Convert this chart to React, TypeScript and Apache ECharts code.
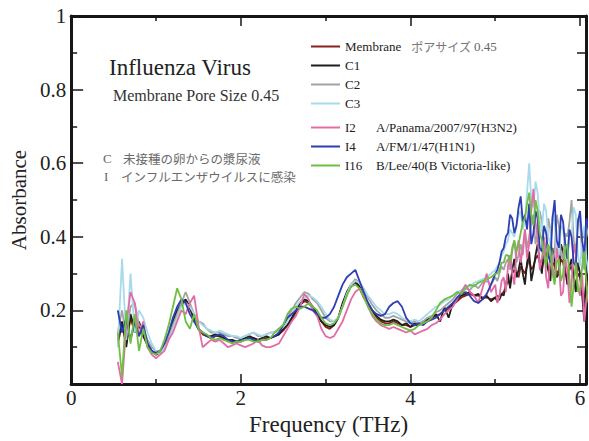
import React, { useEffect, useRef } from "react";
import * as echarts from "echarts";

const freq = [
  0.55, 0.6, 0.65, 0.7, 0.75, 0.8, 0.85, 0.9, 0.95, 1.0,
  1.05, 1.1, 1.15, 1.2, 1.25, 1.3, 1.35, 1.4, 1.45, 1.5,
  1.55, 1.6, 1.65, 1.7, 1.75, 1.8, 1.85, 1.9, 1.95, 2.0,
  2.05, 2.1, 2.15, 2.2, 2.25, 2.3, 2.35, 2.4, 2.45, 2.5,
  2.55, 2.6, 2.65, 2.7, 2.75, 2.8, 2.85, 2.9, 2.95, 3.0,
  3.05, 3.1, 3.15, 3.2, 3.25, 3.3, 3.35, 3.4, 3.45, 3.5,
  3.55, 3.6, 3.65, 3.7, 3.75, 3.8, 3.85, 3.9, 3.95, 4.0,
  4.05, 4.1, 4.15, 4.2, 4.25, 4.3, 4.35, 4.4, 4.45, 4.5,
  4.55, 4.6, 4.65, 4.7, 4.75, 4.8, 4.85, 4.9, 4.95,
  5.0, 5.025, 5.05, 5.075, 5.1, 5.125, 5.15, 5.175, 5.2, 5.225,
  5.25, 5.275, 5.3, 5.325, 5.35, 5.375, 5.4, 5.425, 5.45, 5.475,
  5.5, 5.525, 5.55, 5.575, 5.6, 5.625, 5.65, 5.675, 5.7, 5.725,
  5.75, 5.775, 5.8, 5.825, 5.85, 5.875, 5.9, 5.925, 5.95, 5.975,
  6.0, 6.025, 6.05, 6.075, 6.1,
];

const membrane = [
  0.11, 0.16, 0.11, 0.18, 0.14, 0.16, 0.13, 0.105, 0.09, 0.08,
  0.085, 0.1, 0.125, 0.165, 0.195, 0.215, 0.225, 0.205, 0.175, 0.15,
  0.135, 0.13, 0.125, 0.13, 0.13, 0.12, 0.12, 0.115, 0.115, 0.115,
  0.12, 0.125, 0.125, 0.12, 0.12, 0.125, 0.125, 0.13, 0.135, 0.145,
  0.16, 0.175, 0.195, 0.215, 0.225, 0.22, 0.205, 0.185, 0.17, 0.155,
  0.15, 0.16, 0.18, 0.215, 0.245, 0.265, 0.275, 0.26, 0.235, 0.215,
  0.2, 0.18, 0.17, 0.165, 0.165, 0.17, 0.165, 0.16, 0.16, 0.155,
  0.16, 0.16, 0.165, 0.17, 0.18, 0.185, 0.19, 0.2, 0.205, 0.215,
  0.225, 0.235, 0.24, 0.245, 0.24, 0.24, 0.235, 0.235, 0.23,
  0.235, 0.24, 0.235, 0.245, 0.25, 0.265, 0.28, 0.27, 0.3, 0.31,
  0.3, 0.29, 0.32, 0.31, 0.3, 0.32, 0.34, 0.31, 0.32, 0.34,
  0.35, 0.33, 0.31, 0.34, 0.33, 0.31, 0.3, 0.33, 0.32, 0.3,
  0.31, 0.34, 0.33, 0.3, 0.29, 0.31, 0.32, 0.29, 0.27, 0.3,
  0.29, 0.25, 0.22, 0.28, 0.27,
];

const c1 = [
  0.12, 0.17, 0.1, 0.19, 0.15, 0.17, 0.13, 0.11, 0.09, 0.08,
  0.09, 0.1, 0.13, 0.17, 0.2, 0.22, 0.23, 0.21, 0.18, 0.15,
  0.14, 0.13, 0.13, 0.135, 0.13, 0.125, 0.12, 0.12, 0.115, 0.12,
  0.125, 0.13, 0.125, 0.12, 0.125, 0.13, 0.125, 0.13, 0.135, 0.15,
  0.16, 0.18, 0.2, 0.22, 0.23, 0.225, 0.21, 0.19, 0.17, 0.16,
  0.155, 0.16, 0.18, 0.22, 0.25, 0.27, 0.28, 0.265, 0.24, 0.22,
  0.2, 0.185, 0.175, 0.17, 0.17, 0.175, 0.17, 0.16, 0.165, 0.155,
  0.165, 0.16, 0.17, 0.175, 0.18, 0.19, 0.17, 0.21, 0.18, 0.22,
  0.23, 0.24, 0.245, 0.25, 0.24, 0.245, 0.23, 0.24, 0.225,
  0.235, 0.225, 0.23, 0.245, 0.24, 0.27, 0.3, 0.26, 0.31, 0.34,
  0.29, 0.31, 0.34, 0.3, 0.27, 0.33, 0.36, 0.28, 0.31, 0.35,
  0.38, 0.33, 0.3, 0.39, 0.35, 0.31, 0.28, 0.37, 0.33, 0.29,
  0.3, 0.38, 0.36, 0.31, 0.27, 0.32, 0.34, 0.29, 0.25, 0.33,
  0.3, 0.24, 0.17, 0.31, 0.28,
];

const c2 = [
  0.14, 0.2, 0.13, 0.21, 0.22, 0.16, 0.15, 0.12, 0.1, 0.09,
  0.09, 0.11, 0.13, 0.16, 0.19, 0.22, 0.25, 0.22, 0.19, 0.17,
  0.165, 0.15, 0.14, 0.14, 0.14, 0.135, 0.13, 0.13, 0.125, 0.125,
  0.13, 0.135, 0.14, 0.13, 0.13, 0.135, 0.14, 0.14, 0.15, 0.16,
  0.18, 0.2, 0.22, 0.235, 0.25, 0.245, 0.23, 0.22, 0.2, 0.18,
  0.17, 0.17, 0.18, 0.21, 0.24, 0.27, 0.285, 0.275, 0.255, 0.235,
  0.215, 0.2, 0.19, 0.18, 0.18, 0.185, 0.18, 0.175, 0.17, 0.165,
  0.17, 0.165, 0.17, 0.18, 0.185, 0.195, 0.2, 0.21, 0.22, 0.23,
  0.245, 0.25, 0.26, 0.255, 0.27, 0.26, 0.275, 0.28, 0.27,
  0.29, 0.28, 0.3, 0.32, 0.31, 0.33, 0.34, 0.31, 0.36, 0.39,
  0.33, 0.35, 0.38, 0.35, 0.42, 0.37, 0.4, 0.44, 0.46, 0.38,
  0.41, 0.47, 0.44, 0.35, 0.37, 0.45, 0.42, 0.33, 0.36, 0.46,
  0.43, 0.35, 0.34, 0.41, 0.4, 0.44, 0.5, 0.39, 0.36, 0.45,
  0.44, 0.35, 0.31, 0.43, 0.4,
];

const c3 = [
  0.1, 0.34, 0.12, 0.3, 0.14, 0.2, 0.18, 0.14, 0.11, 0.09,
  0.08, 0.1, 0.12, 0.15, 0.18, 0.21, 0.22, 0.21, 0.19, 0.17,
  0.16, 0.15, 0.145, 0.14, 0.145, 0.14, 0.135, 0.13, 0.13, 0.125,
  0.13, 0.135, 0.14, 0.135, 0.13, 0.135, 0.14, 0.14, 0.145, 0.155,
  0.17, 0.19, 0.21, 0.225, 0.235, 0.24, 0.235, 0.225, 0.21, 0.19,
  0.175, 0.17, 0.18, 0.21, 0.245, 0.27, 0.28, 0.275, 0.26, 0.24,
  0.225, 0.21, 0.2, 0.19, 0.19, 0.195, 0.19, 0.18, 0.175, 0.17,
  0.175, 0.17, 0.18, 0.19, 0.2, 0.21, 0.215, 0.225, 0.23, 0.24,
  0.25, 0.255, 0.265, 0.265, 0.275, 0.28, 0.285, 0.29, 0.3,
  0.31, 0.32, 0.33, 0.35, 0.36, 0.38, 0.39, 0.42, 0.41, 0.4,
  0.43, 0.46, 0.47, 0.42, 0.44, 0.52, 0.6, 0.5, 0.48, 0.55,
  0.52, 0.44, 0.42, 0.49, 0.47, 0.4, 0.38, 0.46, 0.44, 0.37,
  0.35, 0.43, 0.42, 0.36, 0.33, 0.41, 0.4, 0.48, 0.46, 0.35,
  0.32, 0.39, 0.43, 0.34, 0.3,
];

const i2 = [
  0.06, 0.0, 0.16, 0.25, 0.22, 0.13, 0.17, 0.1, 0.08, 0.07,
  0.08, 0.09, 0.12, 0.14, 0.17, 0.2, 0.19, 0.22, 0.24, 0.16,
  0.1, 0.11, 0.12, 0.115, 0.12, 0.11, 0.1, 0.105, 0.11, 0.105,
  0.1, 0.105, 0.11, 0.12, 0.105, 0.1, 0.1, 0.105, 0.11, 0.13,
  0.15, 0.17, 0.185, 0.21, 0.245, 0.23, 0.2, 0.185, 0.15, 0.13,
  0.125, 0.13, 0.15, 0.17, 0.2, 0.23, 0.25, 0.26, 0.24, 0.21,
  0.185, 0.17, 0.16, 0.155, 0.15, 0.155, 0.15, 0.145, 0.14, 0.145,
  0.135, 0.14, 0.145, 0.15, 0.16, 0.165, 0.175, 0.19, 0.2, 0.21,
  0.23, 0.25, 0.27, 0.25, 0.24, 0.22, 0.26, 0.3, 0.25,
  0.27, 0.22, 0.24, 0.28, 0.29, 0.25, 0.32, 0.35, 0.3, 0.27,
  0.36, 0.39, 0.33, 0.37, 0.42, 0.34, 0.38, 0.47, 0.53, 0.44,
  0.4, 0.31, 0.34, 0.4, 0.29, 0.26, 0.36, 0.32, 0.28, 0.37,
  0.33, 0.24, 0.25, 0.34, 0.31, 0.22, 0.27, 0.38, 0.35, 0.26,
  0.24, 0.3, 0.17, 0.23, 0.27,
];

const i4 = [
  0.2, 0.14, 0.18, 0.12, 0.17, 0.13, 0.16, 0.11, 0.09, 0.085,
  0.09, 0.11, 0.14, 0.18, 0.21, 0.23, 0.22, 0.19, 0.17, 0.15,
  0.14, 0.13, 0.125, 0.13, 0.135, 0.13, 0.12, 0.115, 0.115, 0.12,
  0.12, 0.125, 0.12, 0.115, 0.12, 0.12, 0.125, 0.13, 0.14, 0.16,
  0.18, 0.19, 0.2, 0.21, 0.21, 0.205, 0.2, 0.19, 0.18, 0.18,
  0.19, 0.21, 0.24, 0.27, 0.29, 0.3, 0.31, 0.28, 0.25, 0.22,
  0.2, 0.19, 0.185, 0.19, 0.21, 0.22, 0.225, 0.21, 0.18, 0.165,
  0.16, 0.165, 0.16, 0.17, 0.175, 0.18, 0.19, 0.2, 0.21, 0.22,
  0.235, 0.245, 0.25, 0.24, 0.225, 0.22, 0.23, 0.245, 0.27,
  0.3, 0.31, 0.33, 0.36, 0.37, 0.4, 0.41, 0.46, 0.45, 0.41,
  0.43, 0.48, 0.51, 0.44, 0.46, 0.42, 0.49, 0.38, 0.41, 0.47,
  0.45, 0.37, 0.36, 0.43, 0.41, 0.35, 0.33, 0.45, 0.5, 0.39,
  0.37, 0.46, 0.44, 0.38, 0.34, 0.42, 0.4, 0.33, 0.32, 0.44,
  0.47, 0.39, 0.35, 0.45, 0.42,
];

const i16 = [
  0.14, 0.02, 0.2, 0.11, 0.19, 0.09, 0.15, 0.1, 0.085, 0.08,
  0.09, 0.12, 0.16, 0.21, 0.26, 0.23, 0.17, 0.15, 0.19, 0.15,
  0.14, 0.135, 0.125, 0.12, 0.125, 0.12, 0.115, 0.11, 0.115, 0.115,
  0.12, 0.12, 0.115, 0.115, 0.12, 0.12, 0.125, 0.14, 0.15, 0.16,
  0.19, 0.205, 0.21, 0.205, 0.21, 0.22, 0.21, 0.2, 0.18, 0.165,
  0.16, 0.165, 0.18, 0.21, 0.24, 0.265, 0.27, 0.26, 0.235, 0.21,
  0.19, 0.175, 0.165, 0.16, 0.16, 0.165, 0.16, 0.155, 0.15, 0.145,
  0.15, 0.16, 0.165, 0.17, 0.18, 0.2, 0.22, 0.23, 0.235, 0.24,
  0.25, 0.245, 0.26, 0.27, 0.265, 0.275, 0.28, 0.285, 0.29,
  0.3, 0.3, 0.31, 0.33, 0.33, 0.35, 0.35, 0.33, 0.37, 0.39,
  0.36, 0.38, 0.41, 0.44, 0.45, 0.49, 0.52, 0.46, 0.43, 0.5,
  0.47, 0.41, 0.39, 0.35, 0.32, 0.38, 0.36, 0.3, 0.27, 0.33,
  0.34, 0.28, 0.3, 0.37, 0.38, 0.29, 0.21, 0.27, 0.33, 0.25,
  0.26, 0.32, 0.36, 0.27, 0.22,
];

const seriesNames = ["Membrane", "C1", "C2", "C3", "I2", "I4", "I16"];
const seriesValues = [membrane, c1, c2, c3, i2, i4, i16];
const seriesColors = ["#8b1f1f", "#1e1e1e", "#a3a3a3", "#a6dbea", "#e36ca6", "#2d3db3", "#70be44"];
const strainNames: Record<string, string> = {
  I2: "A/Panama/2007/97(H3N2)",
  I4: "A/FM/1/47(H1N1)",
  I16: "B/Lee/40(B Victoria-like)",
};

const SERIF = "Liberation Serif";
const JP = "Noto Sans CJK JP";

export default function App() {
  const ref = useRef<HTMLDivElement>(null);
  useEffect(() => {
    document.body.style.margin = "0";
    const chart = echarts.init(ref.current!, null, { renderer: "svg" });

    const axisLine = { show: true, onZero: false, lineStyle: { color: "#161616", width: 3 } };
    const legendRich = {
      n: { fontFamily: SERIF, fontSize: 13, color: "#222", width: 31, lineHeight: 19 },
      s: { fontFamily: SERIF, fontSize: 13, color: "#222", lineHeight: 19 },
      j: { fontFamily: JP, fontSize: 12, color: "#777", lineHeight: 19, padding: [0, 0, 0, 10] },
      k: { fontFamily: SERIF, fontSize: 13, color: "#666", lineHeight: 19 },
    };
    const legendFormatter = (name: string) => {
      if (name === "Membrane") return "{s|Membrane}{j|ポアサイズ }{k|0.45}";
      if (strainNames[name]) return `{n|${name}}{s|${strainNames[name]}}`;
      return `{s|${name}}`;
    };
    const legendBase = {
      orient: "vertical",
      left: 311,
      itemWidth: 29,
      itemHeight: 2,
      itemGap: 0,
      padding: 0,
      icon: "rect",
      textStyle: { fontFamily: SERIF, fontSize: 13, color: "#222", lineHeight: 19, rich: legendRich },
      formatter: legendFormatter,
      selectedMode: false,
    };

    const option: any = {
      animation: false,
      backgroundColor: "#ffffff",
      grid: { left: 67, right: 2, top: 16, bottom: 51, containLabel: false },
      legend: [
        { ...legendBase, top: 37, data: ["Membrane", "C1", "C2", "C3"] },
        { ...legendBase, top: 118, data: ["I2", "I4", "I16"] },
      ],
      xAxis: [
        {
          type: "value",
          position: "bottom",
          min: 0,
          max: 6.07,
          interval: 2,
          axisLine,
          axisTick: { show: true, inside: true, length: 10, lineStyle: { color: "#161616", width: 1.5 } },
          minorTick: { show: true, splitNumber: 2, length: 5, lineStyle: { color: "#161616", width: 1.5 } },
          splitLine: { show: false },
          axisLabel: {
            margin: 3,
            fontFamily: SERIF,
            fontSize: 21,
            color: "#222",
            formatter: (v: number) => (Math.abs(v % 2) < 1e-9 ? String(v) : ""),
          },
          name: "Frequency (THz)",
          nameLocation: "middle",
          nameGap: 29,
          nameTextStyle: { fontFamily: SERIF, fontSize: 23, color: "#222" },
        },
        {
          type: "value",
          position: "top",
          min: 0,
          max: 6.07,
          interval: 2,
          axisLine,
          axisTick: { show: true, inside: true, length: 10, lineStyle: { color: "#161616", width: 1.5 } },
          minorTick: { show: true, splitNumber: 2, length: 5, lineStyle: { color: "#161616", width: 1.5 } },
          splitLine: { show: false },
          axisLabel: { show: false },
        },
      ],
      yAxis: [
        {
          type: "value",
          position: "left",
          min: 0,
          max: 1,
          interval: 0.2,
          axisLine,
          axisTick: { show: true, inside: true, length: 12, lineStyle: { color: "#161616", width: 1.5 } },
          minorTick: { show: true, splitNumber: 2, length: 6, lineStyle: { color: "#161616", width: 1.5 } },
          splitLine: { show: false },
          axisLabel: {
            margin: 5,
            fontFamily: SERIF,
            fontSize: 21,
            color: "#222",
            formatter: (v: number) => (v === 0 ? "" : String(Math.round(v * 10) / 10)),
          },
          name: "Absorbance",
          nameLocation: "middle",
          nameGap: 36,
          nameTextStyle: { fontFamily: SERIF, fontSize: 21, color: "#222" },
        },
        {
          type: "value",
          position: "right",
          min: 0,
          max: 1,
          interval: 0.1,
          axisLine,
          axisTick: { show: true, inside: true, length: 9, lineStyle: { color: "#161616", width: 1.5 } },
          splitLine: { show: false },
          axisLabel: { show: false },
        },
      ],
      graphic: [
        {
          type: "text",
          x: 109,
          y: 67,
          style: { text: "Influenza Virus", fontFamily: SERIF, fontSize: 23, fill: "#222", verticalAlign: "middle" },
        },
        {
          type: "text",
          x: 113,
          y: 95,
          style: { text: "Membrane Pore Size 0.45", fontFamily: SERIF, fontSize: 16, fill: "#333", verticalAlign: "middle" },
        },
        {
          type: "text",
          x: 103,
          y: 158,
          style: { text: "C", fontFamily: SERIF, fontSize: 13, fill: "#666", verticalAlign: "middle" },
        },
        {
          type: "text",
          x: 123,
          y: 158,
          style: { text: "未接種の卵からの漿尿液", fontFamily: JP, fontSize: 12.5, fill: "#6a6a6a", verticalAlign: "middle" },
        },
        {
          type: "text",
          x: 104,
          y: 176,
          style: { text: "I", fontFamily: SERIF, fontSize: 13, fill: "#666", verticalAlign: "middle" },
        },
        {
          type: "text",
          x: 121,
          y: 176,
          style: { text: "インフルエンザウイルスに感染", fontFamily: JP, fontSize: 12.5, fill: "#6a6a6a", verticalAlign: "middle" },
        },
      ],
      series: seriesNames.map((name, k) => ({
        name,
        type: "line",
        xAxisIndex: 0,
        yAxisIndex: 0,
        showSymbol: false,
        symbol: "none",
        clip: true,
        color: seriesColors[k],
        lineStyle: { color: seriesColors[k], width: 1.8 },
        data: freq.map((f, i) => [f, seriesValues[k][i]]),
      })),
    };

    chart.setOption(option);
    return () => chart.dispose();
  }, []);

  return <div ref={ref} style={{ width: 589, height: 441 }} />;
}
